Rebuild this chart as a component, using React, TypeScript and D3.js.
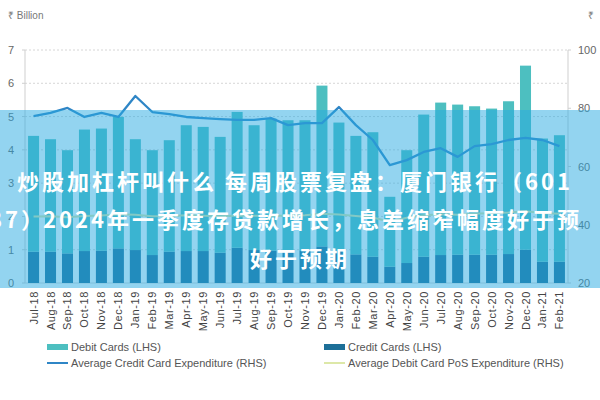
import React from "react";
import * as d3 from "d3";

const months = [
  "Jul-18", "Aug-18", "Sep-18", "Oct-18", "Nov-18", "Dec-18",
  "Jan-19", "Feb-19", "Mar-19", "Apr-19", "May-19", "Jun-19",
  "Jul-19", "Aug-19", "Sep-19", "Oct-19", "Nov-19", "Dec-19",
  "Jan-20", "Feb-20", "Mar-20", "Apr-20", "May-20", "Jun-20",
  "Jul-20", "Aug-20", "Sep-20", "Oct-20", "Nov-20", "Dec-20",
  "Jan-21", "Feb-21",
];

// ₹ billion (LHS), stacked: credit at bottom, debit on top
const creditCards = [
  0.94, 0.94, 0.89, 0.96, 0.97, 1.04, 0.99, 0.84, 0.94, 0.96, 0.96, 0.91,
  1.06, 0.99, 0.97, 0.98, 0.98, 1.1, 0.97, 0.86, 0.79, 0.49, 0.6, 0.79,
  0.84, 0.85, 0.85, 0.85, 0.87, 1.0, 0.64, 0.64,
];
const debitCards = [
  3.48, 3.38, 3.1, 3.65, 3.67, 3.95, 3.33, 3.15, 3.35, 3.78, 3.73, 3.48,
  4.08, 3.75, 3.97, 3.91, 3.91, 4.83, 3.85, 3.56, 3.74, 2.1, 3.39, 4.27,
  4.58, 4.51, 4.46, 4.39, 4.59, 5.53, 3.7, 3.8,
];
// ₹ (RHS)
const avgCreditExp = [
  77.3, 78.4, 80.1, 77.0, 78.4, 77.0, 84.2, 78.7, 78.0, 77.0, 76.6, 76.3,
  76.0, 76.0, 76.6, 74.2, 74.9, 74.9, 80.4, 74.2, 69.1, 60.5, 62.2, 65.0,
  66.3, 63.3, 67.0, 67.7, 69.1, 69.8, 69.1, 67.0,
];
const avgDebitPosExp = [
  42.8, 42.9, 42.6, 43.0, 43.2, 43.6, 43.4, 42.9, 43.0, 43.3, 43.1, 42.9,
  43.2, 43.1, 43.0, 43.2, 43.3, 43.8, 43.5, 43.0, 42.5, 41.0, 42.4, 43.3,
  43.6, 43.4, 43.8, 44.0, 44.2, 44.6, 44.0, 43.8,
];
const leftTicks = [0, 1, 2, 3, 4, 5, 6, 7];
const rightTicks = [20, 40, 60, 80, 100];
const titleLines = [
  "炒股加杠杆叫什么 每周股票复盘：厦门银行（601",
  "187）",
  "2024年一季度存贷款增长，息差缩窄幅度好于预",
  "好于预期",
];

const W = 600;
const H = 400;
const X0 = 25;
const X1 = 568;
const Y0 = 283;
const Y1 = 50;

export default function App() {
  const x = d3.scaleBand<string>().domain(months).range([X0, X1]).paddingInner(0.35).paddingOuter(0.18);
  const yL = d3.scaleLinear().domain([0, 7]).range([Y0, Y1]);
  const yR = d3.scaleLinear().domain([20, 100]).range([Y0, Y1]);
  const cx = (m: string) => (x(m) as number) + x.bandwidth() / 2;

  const creditLine = d3
    .line<number>()
    .x((_, i) => cx(months[i]))
    .y((d) => yR(d));

  const font = "'Liberation Sans', Arial, sans-serif";
  const debitColor = "#4dbfc0";
  const creditColor = "#1d6f98";
  const lineColor = "#2f86c6";
  const posColor = "#dde8a8";

  return (
    <svg width={W} height={H} style={{ position: "absolute", left: 0, top: 0, background: "#fff" }}>
      {/* gridlines */}
      {leftTicks.slice(1).map((t) => (
        <line key={"g" + t} x1={X0} x2={X1} y1={yL(t)} y2={yL(t)} stroke="#d6d6d6" strokeDasharray="2,2" strokeWidth={1} />
      ))}
      {/* axes */}
      <line x1={X0} x2={X0} y1={Y1} y2={Y0} stroke="#cfcfcf" />
      <line x1={X1} x2={X1} y1={Y1} y2={Y0} stroke="#cfcfcf" />
      <line x1={X0} x2={X1} y1={Y0} y2={Y0} stroke="#d6d6d6" />
      {leftTicks.map((t) => (
        <g key={"l" + t}>
          <line x1={X0 - 3} x2={X0} y1={yL(t)} y2={yL(t)} stroke="#cfcfcf" />
          <text x={14} y={yL(t) + 4} textAnchor="end" fontFamily={font} fontSize={11} fill="#666">
            {t}
          </text>
        </g>
      ))}
      {rightTicks.map((t) => (
        <g key={"r" + t}>
          <line x1={X1} x2={X1 + 3} y1={yR(t)} y2={yR(t)} stroke="#cfcfcf" />
          <text x={578} y={yR(t) + 4} textAnchor="start" fontFamily={font} fontSize={11} fill="#666">
            {t}
          </text>
        </g>
      ))}
      <text x={8} y={19} fontFamily={font} fontSize={10} fill="#777">₹ Billion</text>
      <text x={588} y={19} fontFamily={font} fontSize={10} fill="#777">₹</text>

      {/* bars */}
      {months.map((m, i) => (
        <g key={"b" + m}>
          <rect x={x(m)} width={x.bandwidth()} y={yL(creditCards[i])} height={Y0 - yL(creditCards[i])} fill={creditColor} />
          <rect
            x={x(m)}
            width={x.bandwidth()}
            y={yL(creditCards[i] + debitCards[i])}
            height={yL(creditCards[i]) - yL(creditCards[i] + debitCards[i])}
            fill={debitColor}
          />
        </g>
      ))}

      {/* lines */}
      <path d={creditLine(avgDebitPosExp) || ""} fill="none" stroke={posColor} strokeWidth={2} />
      <path d={creditLine(avgCreditExp) || ""} fill="none" stroke={lineColor} strokeWidth={2.3} strokeLinejoin="round" />

      {/* x labels */}
      {months.map((m) => (
        <text
          key={"x" + m}
          transform={`translate(${cx(m) + 4},${291}) rotate(-90)`}
          textAnchor="end"
          fontFamily={font}
          fontSize={11}
          letterSpacing={0.6}
          fill="#444"
        >
          {m}
        </text>
      ))}

      {/* legend */}
      <rect x={47} y={344} width={21} height={6} fill={debitColor} />
      <text x={71} y={351} fontFamily={font} fontSize={11} fill="#555">Debit Cards (LHS)</text>
      <line x1={47} x2={68} y1={363} y2={363} stroke={lineColor} strokeWidth={2} />
      <text x={71} y={367} fontFamily={font} fontSize={11} fill="#555">Average Credit Card Expenditure (RHS)</text>
      <rect x={324} y={344} width={21} height={6} fill={creditColor} />
      <text x={348} y={351} fontFamily={font} fontSize={11} fill="#555">Credit Cards (LHS)</text>
      <line x1={324} x2={345} y1={363} y2={363} stroke={posColor} strokeWidth={2} />
      <text x={348} y={367} fontFamily={font} fontSize={11} fill="#555">Average Debit Card PoS Expenditure (RHS)</text>

      {/* overlay band with title */}
      <rect x={0} y={110} width={W} height={178} fill="rgba(40,170,225,0.5)" />
      <g fontFamily="'Noto Sans CJK SC', sans-serif" fontWeight={700} fontSize={22} fill="#fff" letterSpacing={3}>
        <text x={17} y={190}>{titleLines[0]}</text>
        <text x={46} y={228} textAnchor="end">{titleLines[1]}</text>
        <text x={43} y={228}>{titleLines[2]}</text>
        <text x={300} y={267} textAnchor="middle">{titleLines[3]}</text>
      </g>
    </svg>
  );
}
